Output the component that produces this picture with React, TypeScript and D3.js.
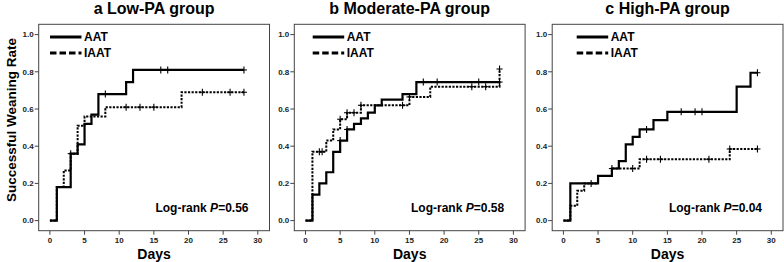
import React from "react";
import * as d3 from "d3";

type Pt = [number, number];

const panelTitles = ["a", "b", "c"];
const panelNames = ["Low-PA group", "Moderate-PA group", "High-PA group"];
const pValues = ["0.56", "0.58", "0.04"];
const seriesNames = ["AAT", "IAAT"];
const xTicks = [0, 5, 10, 15, 20, 25, 30];
const yTicks = [0, 0.2, 0.4, 0.6, 0.8, 1.0];

// Panel a
const aAAT: Pt[] = [[0, 0], [1, 0.18], [3, 0.36], [4, 0.41], [5, 0.52], [6, 0.57], [7, 0.68], [11, 0.745], [12, 0.81], [28, 0.81]];
const aAATCens: Pt[] = [[3, 0.36], [8, 0.68], [16, 0.81], [17, 0.81], [28, 0.81]];
const aIAAT: Pt[] = [[0, 0], [1, 0.18], [2, 0.27], [3, 0.36], [4, 0.51], [5, 0.56], [8, 0.61], [19, 0.69], [28, 0.69]];
const aIAATCens: Pt[] = [[11, 0.61], [13, 0.61], [15, 0.61], [22, 0.69], [26, 0.69], [28, 0.69]];

// Panel b
const bAAT: Pt[] = [[0, 0], [1, 0.14], [2, 0.2], [3, 0.26], [4, 0.37], [5, 0.43], [6, 0.49], [7, 0.52], [8, 0.55], [9, 0.58], [10, 0.62], [11, 0.65], [14, 0.68], [16, 0.745], [28, 0.745]];
const bAATCens: Pt[] = [[5, 0.43], [6, 0.49], [17, 0.745], [19, 0.745], [25, 0.745], [28, 0.745]];
const bIAAT: Pt[] = [[0, 0], [1, 0.37], [3, 0.43], [4, 0.49], [5, 0.545], [6, 0.58], [8, 0.62], [15, 0.665], [18, 0.72], [28, 0.815]];
const bIAATCens: Pt[] = [[2, 0.37], [2.4, 0.37], [5, 0.545], [6, 0.58], [7, 0.58], [8, 0.62], [14, 0.62], [15, 0.665], [24, 0.72], [26, 0.72], [28, 0.815]];

// Panel c
const cAAT: Pt[] = [[0, 0], [1, 0.2], [5, 0.24], [7, 0.28], [8, 0.32], [9, 0.41], [10, 0.45], [11, 0.49], [13, 0.54], [15, 0.585], [25, 0.72], [27, 0.795], [28, 0.795]];
const cAATCens: Pt[] = [[4, 0.2], [12, 0.49], [17, 0.585], [19, 0.585], [20, 0.585], [28, 0.795]];
const cIAAT: Pt[] = [[0, 0], [1, 0.08], [2, 0.16], [3, 0.2], [5, 0.24], [7, 0.28], [11, 0.33], [24, 0.385], [28, 0.385]];
const cIAATCens: Pt[] = [[7, 0.28], [10, 0.28], [12, 0.33], [14, 0.33], [21, 0.33], [24, 0.385], [28, 0.385]];

const aatSeries = [aAAT, bAAT, cAAT];
const aatCens = [aAATCens, bAATCens, cAATCens];
const iaatSeries = [aIAAT, bIAAT, cIAAT];
const iaatCens = [aIAATCens, bIAATCens, cIAATCens];

const frameLefts = [38.7, 294.3, 552.2];
const legendLefts = [50, 312.7, 576.7];
const FRAME_W = 230.8;
const TOP = 24.3;
const BOTTOM = 230.7;
const FONT = "'Liberation Sans', Arial, Helvetica, sans-serif";

const y = d3.scaleLinear().domain([0, 1]).range([220.6, 34.6]);

function Panel({ i }: { i: number }) {
  const fl = frameLefts[i];
  const fr = fl + FRAME_W;
  const x = d3.scaleLinear().domain([0, 30]).range([fl + 11.2, fl + 11.2 + 207.9]);
  const line = d3
    .line<Pt>()
    .x((d) => x(d[0]))
    .y((d) => y(d[1]))
    .curve(d3.curveStepAfter);
  const cross = (pts: Pt[], key: string) =>
    pts.map((d, k) => {
      const cx = x(d[0]);
      const cy = y(d[1]);
      return (
        <g key={key + k} stroke="#000" strokeWidth={1.1}>
          <line x1={cx} x2={cx} y1={cy - 3.5} y2={cy + 3.5} />
          <line x1={cx - 3} x2={cx + 3} y1={cy} y2={cy} />
        </g>
      );
    });
  const lx = legendLefts[i];
  const cx = (fl + fr) / 2;
  return (
    <g>
      <text x={cx} y={13.5} textAnchor="middle" fontFamily={FONT} fontWeight="bold" fontSize={16} fill="#000">
        {panelTitles[i]} {panelNames[i]}
      </text>
      <rect x={fl} y={TOP} width={FRAME_W} height={BOTTOM - TOP} fill="none" stroke="#444" strokeWidth={1} />
      {yTicks.map((t) => (
        <g key={"y" + t}>
          <line x1={fl - 4} x2={fl} y1={y(t)} y2={y(t)} stroke="#444" strokeWidth={1} />
          <text x={fl - 5} y={y(t)} dy="0.35em" textAnchor="end" fontFamily={FONT} fontWeight="bold" fontSize={8} fill="#222">
            {t.toFixed(1)}
          </text>
        </g>
      ))}
      {xTicks.map((t) => (
        <g key={"x" + t}>
          <line x1={x(t)} x2={x(t)} y1={BOTTOM} y2={BOTTOM + 4} stroke="#444" strokeWidth={1} />
          <text x={x(t)} y={242.5} textAnchor="middle" fontFamily={FONT} fontWeight="bold" fontSize={8} fill="#222">
            {t}
          </text>
        </g>
      ))}
      <text x={cx} y={258.5} textAnchor="middle" fontFamily={FONT} fontWeight="bold" fontSize={14} fill="#000">
        Days
      </text>
      <path d={line(iaatSeries[i]) || ""} fill="none" stroke="#000" strokeWidth={2} strokeDasharray="2.2,1.4" />
      {cross(iaatCens[i], "ic")}
      <path d={line(aatSeries[i]) || ""} fill="none" stroke="#000" strokeWidth={2.2} />
      {cross(aatCens[i], "ac")}
      <line x1={lx} x2={lx + 31.5} y1={37} y2={37} stroke="#000" strokeWidth={3} />
      <line x1={lx} x2={lx + 31.5} y1={53} y2={53} stroke="#000" strokeWidth={3} strokeDasharray="6.5,3" />
      <text x={lx + 34} y={41.3} fontFamily={FONT} fontWeight="bold" fontSize={12} fill="#000">
        {seriesNames[0]}
      </text>
      <text x={lx + 34} y={57.3} fontFamily={FONT} fontWeight="bold" fontSize={12} fill="#000">
        {seriesNames[1]}
      </text>
      <text x={fr - 21} y={212} textAnchor="end" fontFamily={FONT} fontWeight="bold" fontSize={12} fill="#000">
        Log-rank <tspan fontStyle="italic">P</tspan>={pValues[i]}
      </text>
    </g>
  );
}

export default function App() {
  return (
    <svg
      width={784}
      height={262}
      style={{ position: "absolute", left: 0, top: 0, background: "#fff" }}
    >
      <rect x={0} y={0} width={784} height={262} fill="#fff" />
      <text
        transform="translate(16,120) rotate(-90)"
        textAnchor="middle"
        fontFamily={FONT}
        fontWeight="bold"
        fontSize={13.5}
        fill="#000"
      >
        Successful Weaning Rate
      </text>
      {[0, 1, 2].map((i) => (
        <Panel key={i} i={i} />
      ))}
    </svg>
  );
}
